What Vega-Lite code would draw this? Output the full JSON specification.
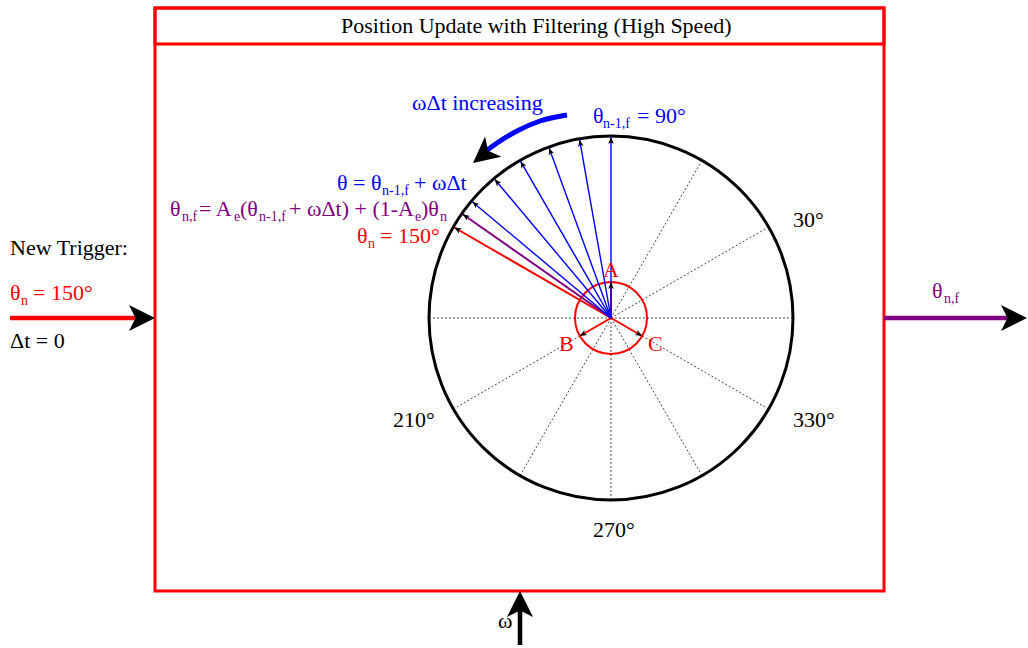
{
  "$schema": "https://vega.github.io/schema/vega-lite/v6.json",
  "width": 1028,
  "height": 648,
  "autosize": {"type": "fit", "contains": "padding"},
  "padding": 0,
  "background": "white",
  "config": {"view": {"stroke": null}},
  "encoding": {
    "x": {"field": "x", "type": "quantitative", "scale": {"domain": [0, 1028], "nice": false, "zero": false}, "axis": null},
    "y": {"field": "y", "type": "quantitative", "scale": {"domain": [0, 648], "reverse": true, "nice": false, "zero": false}, "axis": null}
  },
  "layer": [
    {
      "data": {"values": [{"x": 155, "y": 8, "x2": 884, "y2": 591}, {"x": 155, "y": 8, "x2": 884, "y2": 44}]},
      "mark": {"type": "rect", "fillOpacity": 0, "stroke": "#ff0000", "strokeWidth": 3},
      "encoding": {"x2": {"field": "x2"}, "y2": {"field": "y2"}}
    },
    {
      "data": {"values": [
        {"x": 611, "y": 318, "x2": 793, "y2": 318},
        {"x": 611, "y": 318, "x2": 768.6, "y2": 227},
        {"x": 611, "y": 318, "x2": 702, "y2": 160.4},
        {"x": 611, "y": 318, "x2": 520, "y2": 160.4},
        {"x": 611, "y": 318, "x2": 453.4, "y2": 227},
        {"x": 611, "y": 318, "x2": 429, "y2": 318},
        {"x": 611, "y": 318, "x2": 453.4, "y2": 409},
        {"x": 611, "y": 318, "x2": 520, "y2": 475.6},
        {"x": 611, "y": 318, "x2": 611, "y2": 500},
        {"x": 611, "y": 318, "x2": 702, "y2": 475.6},
        {"x": 611, "y": 318, "x2": 768.6, "y2": 409}
      ]},
      "mark": {"type": "rule", "color": "#444444", "strokeWidth": 1, "strokeDash": [2, 2]},
      "encoding": {"x2": {"field": "x2"}, "y2": {"field": "y2"}}
    },
    {
      "data": {"values": [{"x": 611, "y": 318}]},
      "mark": {"type": "point", "shape": "circle", "filled": false, "color": "#000000", "strokeWidth": 3, "size": 132496, "opacity": 1}
    },
    {
      "data": {"values": [{"x": 611, "y": 318}]},
      "mark": {"type": "point", "shape": "circle", "filled": false, "color": "#ff0000", "strokeWidth": 2, "size": 5184, "opacity": 1}
    },
    {
      "data": {"values": [
        {"x": 611, "y": 318, "x2": 611, "y2": 283, "kind": "measured"},
        {"x": 611, "y": 318, "x2": 580.7, "y2": 335.5, "kind": "measured"},
        {"x": 611, "y": 318, "x2": 641.3, "y2": 335.5, "kind": "measured"},
        {"x": 611, "y": 318, "x2": 454.3, "y2": 227.5, "kind": "measured"},
        {"x": 611, "y": 318, "x2": 462.7, "y2": 214.2, "kind": "filtered"}
      ]},
      "mark": {"type": "rule", "strokeWidth": 2},
      "encoding": {
        "x2": {"field": "x2"}, "y2": {"field": "y2"},
        "color": {"field": "kind", "type": "nominal", "scale": {"domain": ["measured", "predicted", "filtered", "plain"], "range": ["#ff0000", "#0000ff", "#800080", "#000000"]}, "legend": null}
      }
    },
    {
      "data": {"values": [
        {"x": 611, "y": 318, "x2": 611, "y2": 137, "kind": "predicted"},
        {"x": 611, "y": 318, "x2": 579.6, "y2": 139.7, "kind": "predicted"},
        {"x": 611, "y": 318, "x2": 549.1, "y2": 147.9, "kind": "predicted"},
        {"x": 611, "y": 318, "x2": 520.5, "y2": 161.2, "kind": "predicted"},
        {"x": 611, "y": 318, "x2": 494.7, "y2": 179.3, "kind": "predicted"},
        {"x": 611, "y": 318, "x2": 472.3, "y2": 201.7, "kind": "predicted"}
      ]},
      "mark": {"type": "rule", "strokeWidth": 1.4},
      "encoding": {
        "x2": {"field": "x2"}, "y2": {"field": "y2"},
        "color": {"field": "kind", "type": "nominal", "scale": {"domain": ["measured", "predicted", "filtered", "plain"], "range": ["#ff0000", "#0000ff", "#800080", "#000000"]}, "legend": null}
      }
    },
    {
      "data": {"values": [
        {"x": 611, "y": 137, "dir": 90},
        {"x": 579.6, "y": 139.7, "dir": 100},
        {"x": 549.1, "y": 147.9, "dir": 110},
        {"x": 520.5, "y": 161.2, "dir": 120},
        {"x": 494.7, "y": 179.3, "dir": 130},
        {"x": 472.3, "y": 201.7, "dir": 140},
        {"x": 462.7, "y": 214.2, "dir": 145},
        {"x": 454.3, "y": 227.5, "dir": 150},
        {"x": 611, "y": 282, "dir": 90},
        {"x": 579.8, "y": 336, "dir": 210},
        {"x": 642.2, "y": 336, "dir": 330}
      ]},
      "mark": {"type": "point", "shape": "M0,0L-2,-0.8L-1.5,0L-2,0.8Z", "filled": true, "color": "#000000", "size": 49, "opacity": 1, "strokeWidth": 0},
      "encoding": {"angle": {"field": "dir", "type": "quantitative", "scale": {"domain": [0, 360], "range": [360, 0]}}}
    },
    {
      "data": {"values": [
        {"x": 10, "y": 318, "x2": 140, "y2": 318, "kind": "measured"},
        {"x": 884, "y": 318, "x2": 1010, "y2": 318, "kind": "filtered"},
        {"x": 520, "y": 645, "x2": 520, "y2": 605, "kind": "plain"}
      ]},
      "mark": {"type": "rule", "strokeWidth": 4.5},
      "encoding": {
        "x2": {"field": "x2"}, "y2": {"field": "y2"},
        "color": {"field": "kind", "type": "nominal", "scale": {"domain": ["measured", "predicted", "filtered", "plain"], "range": ["#ff0000", "#0000ff", "#800080", "#000000"]}, "legend": null}
      }
    },
    {
      "data": {"values": [
        {"x": 567, "y": 115, "o": 1},
        {"x": 540, "y": 121, "o": 2},
        {"x": 517, "y": 131, "o": 3},
        {"x": 497, "y": 143, "o": 4},
        {"x": 486, "y": 151, "o": 5}
      ]},
      "mark": {"type": "line", "color": "#0000ff", "strokeWidth": 5, "interpolate": "monotone"},
      "encoding": {"order": {"field": "o", "type": "quantitative"}}
    },
    {
      "data": {"values": [
        {"x": 155, "y": 318, "dir": 0},
        {"x": 1027, "y": 318, "dir": 0},
        {"x": 520, "y": 591, "dir": 90},
        {"x": 473, "y": 163, "dir": 219}
      ]},
      "mark": {"type": "point", "shape": "M0,0L-2,-1L-1.5,0L-2,1Z", "filled": true, "color": "#000000", "size": 676, "opacity": 1, "strokeWidth": 0},
      "encoding": {"angle": {"field": "dir", "type": "quantitative", "scale": {"domain": [0, 360], "range": [360, 0]}}}
    },
    {
      "data": {"values": [
        {"x": 341, "y": 33, "t": "Position Update with Filtering (High Speed)", "kind": "plain"},
        {"x": 412, "y": 110, "t": "ωΔt increasing", "kind": "predicted"},
        {"x": 593, "y": 123, "t": "θ", "kind": "predicted"},
        {"x": 637, "y": 123, "t": "= 90°", "kind": "predicted"},
        {"x": 337, "y": 190, "t": "θ = θ", "kind": "predicted"},
        {"x": 414, "y": 190, "t": "+ ωΔt", "kind": "predicted"},
        {"x": 170, "y": 216, "t": "θ", "kind": "filtered"},
        {"x": 199, "y": 216, "t": "= A", "kind": "filtered"},
        {"x": 240, "y": 216, "t": "(θ", "kind": "filtered"},
        {"x": 289, "y": 216, "t": "+ ωΔt) + (1-A", "kind": "filtered"},
        {"x": 421, "y": 216, "t": ")θ", "kind": "filtered"},
        {"x": 357, "y": 243, "t": "θ", "kind": "measured"},
        {"x": 380, "y": 243, "t": "= 150°", "kind": "measured"},
        {"x": 10, "y": 255, "t": "New Trigger:", "kind": "plain"},
        {"x": 10, "y": 300, "t": "θ", "kind": "measured"},
        {"x": 33, "y": 300, "t": "= 150°", "kind": "measured"},
        {"x": 10, "y": 348, "t": "Δt = 0", "kind": "plain"},
        {"x": 932, "y": 298, "t": "θ", "kind": "filtered"},
        {"x": 498, "y": 628, "t": "ω", "kind": "plain"},
        {"x": 793, "y": 227, "t": "30°", "kind": "plain"},
        {"x": 393, "y": 427, "t": "210°", "kind": "plain"},
        {"x": 793, "y": 427, "t": "330°", "kind": "plain"},
        {"x": 593, "y": 537, "t": "270°", "kind": "plain"},
        {"x": 603, "y": 277, "t": "A", "kind": "measured"},
        {"x": 559, "y": 351, "t": "B", "kind": "measured"},
        {"x": 648, "y": 351, "t": "C", "kind": "measured"}
      ]},
      "mark": {"type": "text", "align": "left", "baseline": "alphabetic", "font": "Liberation Serif", "fontSize": 22},
      "encoding": {
        "text": {"field": "t"},
        "color": {"field": "kind", "type": "nominal", "scale": {"domain": ["measured", "predicted", "filtered", "plain"], "range": ["#ff0000", "#0000ff", "#800080", "#000000"]}, "legend": null}
      }
    },
    {
      "data": {"values": [
        {"x": 603, "y": 128, "t": "n-1,f", "kind": "predicted"},
        {"x": 382, "y": 195, "t": "n-1,f", "kind": "predicted"},
        {"x": 182, "y": 221, "t": "n,f", "kind": "filtered"},
        {"x": 234, "y": 221, "t": "e", "kind": "filtered"},
        {"x": 259, "y": 221, "t": "n-1,f", "kind": "filtered"},
        {"x": 415, "y": 221, "t": "e", "kind": "filtered"},
        {"x": 440, "y": 221, "t": "n", "kind": "filtered"},
        {"x": 368, "y": 248, "t": "n", "kind": "measured"},
        {"x": 21, "y": 305, "t": "n", "kind": "measured"},
        {"x": 944, "y": 303, "t": "n,f", "kind": "filtered"}
      ]},
      "mark": {"type": "text", "align": "left", "baseline": "alphabetic", "font": "Liberation Serif", "fontSize": 14},
      "encoding": {
        "text": {"field": "t"},
        "color": {"field": "kind", "type": "nominal", "scale": {"domain": ["measured", "predicted", "filtered", "plain"], "range": ["#ff0000", "#0000ff", "#800080", "#000000"]}, "legend": null}
      }
    }
  ]
}
